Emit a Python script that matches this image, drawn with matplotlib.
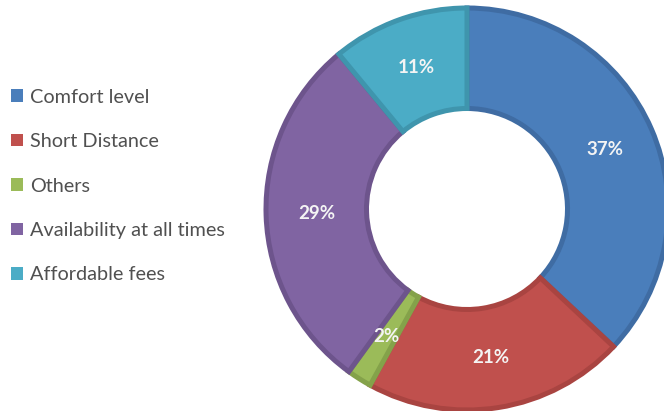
import matplotlib.pyplot as plt
from matplotlib.patches import Patch

# Reasons for choosing the service (share of respondents, %)
categories = ['Comfort level', 'Short Distance', 'Others',
              'Availability at all times', 'Affordable fees']
shares = [37, 21, 2, 29, 11]
fills = ['#4a7ebb', '#c0504d', '#9bbb59', '#8064a2', '#4bacc6']
edges = ['#3f6ca3', '#a94441', '#84a24a', '#6d548c', '#3f95ad']

fig = plt.figure(figsize=(6.64, 4.11), dpi=100)
W, H = 664, 411
cx, cy, r = 467, 209, 201

# Axes sized so the ring has radius 1 in data units
ax = fig.add_axes([(cx - r) / W, (H - cy - r) / H, 2 * r / W, 2 * r / H])

wedges, texts, autotexts = ax.pie(
    shares, colors=fills, startangle=90, counterclock=False, radius=1.0,
    autopct='%d%%', pctdistance=0.75,
    wedgeprops=dict(width=0.5, edgecolor='none'),
    textprops=dict(color='#f4f4f4', fontsize=13.5, fontweight='bold',
                   family='Lato'))
for w, ec in zip(wedges, edges):
    w.set_edgecolor(ec)
    w.set_linewidth(3.6)

# pie() pads the limits, so fix them afterwards
ax.set_xlim(-1, 1)
ax.set_ylim(-1, 1)
ax.set_aspect('equal')
ax.axis('off')

# Legend on the left side
handles = [Patch(facecolor=c, edgecolor='none') for c in fills]
fig.legend(handles, categories, loc='center left',
           bbox_to_anchor=(0.0, 1 - 186 / H), frameon=False,
           handlelength=0.6, handleheight=0.6, handletextpad=0.35,
           labelspacing=1.38, borderaxespad=0.15,
           prop=dict(family='Lato', size=14.3), labelcolor='#505050')

fig.savefig('out.png', dpi=100, facecolor='white')
